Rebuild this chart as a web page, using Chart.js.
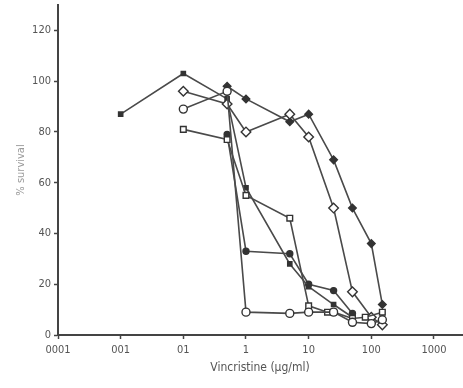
<!DOCTYPE html>
<html>
<head>
<meta charset="utf-8">
<script src="https://cdn.jsdelivr.net/npm/chart.js@4/dist/chart.umd.min.js"></script>
<style>
  html, body { margin: 0; padding: 0; background: #fff; }
  #wrap { width: 463px; height: 388px; }
</style>
</head>
<body>
<div id="wrap"><canvas id="c" width="463" height="388"></canvas></div>
<script>
// ---- data ----
const xTickValues = [0.001, 0.01, 0.1, 1, 10, 100, 1000];
const xTickLabels = ["0001", "001", "01", "1", "10", "100", "1000"];
const yTickValues = [0, 20, 40, 60, 80, 100, 120];

const filledSquareX = [0.01, 0.1, 0.5, 1, 5, 10, 25, 50];
const filledSquareY = [87, 103, 93, 58, 28, 19, 12, 7];

const filledCircleX = [0.5, 1, 5, 10, 25, 50];
const filledCircleY = [79, 33, 32, 20, 17.5, 8.5];

const filledDiamondX = [0.5, 1, 5, 10, 25, 50, 100, 150];
const filledDiamondY = [98, 93, 84, 87, 69, 50, 36, 12];

const openDiamondX = [0.1, 0.5, 1, 5, 10, 25, 50, 100, 150];
const openDiamondY = [96, 91, 80, 87, 78, 50, 17, 7, 4];

const openSquareX = [0.1, 0.5, 1, 5, 10, 20, 25, 50, 80, 150];
const openSquareY = [81, 77, 55, 46, 11.5, 9, 9, 6.5, 7, 9];

const openCircleX = [0.1, 0.5, 1, 5, 10, 25, 50, 100, 150];
const openCircleY = [89, 96, 9, 8.5, 9, 9, 5, 4.5, 6];

// ---- build ----
const pts = (xs, ys) => xs.map((x, i) => ({ x: x, y: ys[i] }));
const LINE = '#4a4a4a';
const MARK = '#333';

function ds(xs, ys, style, radius, filled) {
  return {
    data: pts(xs, ys),
    borderColor: LINE,
    borderWidth: 1.6,
    pointStyle: style,
    pointRadius: radius,
    pointBorderWidth: 1.4,
    pointBorderColor: MARK,
    pointBackgroundColor: filled ? MARK : '#fff',
    tension: 0,
    fill: false
  };
}

const FONT = '"DejaVu Sans Condensed", "Liberation Sans Narrow", sans-serif';

new Chart(document.getElementById('c'), {
  type: 'line',
  data: {
    datasets: [
      ds(openCircleX, openCircleY, 'circle', 4, false),
      ds(openSquareX, openSquareY, 'rect', 4, false),
      ds(openDiamondX, openDiamondY, 'rectRot', 4.8, false),
      ds(filledSquareX, filledSquareY, 'rect', 3, true),
      ds(filledCircleX, filledCircleY, 'circle', 3, true),
      ds(filledDiamondX, filledDiamondY, 'rectRot', 3.8, true)
    ]
  },
  options: {
    responsive: false,
    animation: false,
    layout: { autoPadding: false, padding: { top: 5, right: 1, left: 0, bottom: 0 } },
    plugins: { legend: { display: false }, tooltip: { enabled: false } },
    scales: {
      x: {
        type: 'logarithmic',
        min: 0.001,
        max: 2800,
        afterBuildTicks: s => { s.ticks = xTickValues.map(v => ({ value: v })); },
        afterFit: s => { s.height = 53; s.paddingLeft = 0; s.paddingRight = 0; },
        ticks: {
          autoSkip: false,
          maxRotation: 0,
          padding: 5,
          color: '#555',
          font: { family: FONT, size: 11 },
          callback: (v, i) => xTickLabels[i]
        },
        grid: { drawOnChartArea: false, drawTicks: true, tickLength: 4, tickColor: '#444', tickWidth: 1.5 },
        border: { display: true, color: '#444', width: 2 },
        title: {
          display: true,
          text: 'Vincristine (µg/ml)',
          color: '#555',
          font: { family: FONT, size: 12 },
          padding: { top: 0, bottom: 13 }
        }
      },
      y: {
        type: 'linear',
        min: 0,
        max: 130,
        afterBuildTicks: s => { s.ticks = yTickValues.map(v => ({ value: v })); },
        afterFit: s => { s.width = 58; s.paddingTop = 0; s.paddingBottom = 0; },
        ticks: {
          padding: 3,
          color: '#555',
          font: { family: FONT, size: 11 }
        },
        grid: { drawOnChartArea: false, drawTicks: true, tickLength: 4, tickColor: '#444', tickWidth: 1.5 },
        border: { display: true, color: '#444', width: 2 },
        title: {
          display: true,
          text: '% survival',
          color: '#9a9a9a',
          font: { family: FONT, size: 11 },
          padding: { top: 15, bottom: 0 }
        }
      }
    }
  }
});
</script>
</body>
</html>
